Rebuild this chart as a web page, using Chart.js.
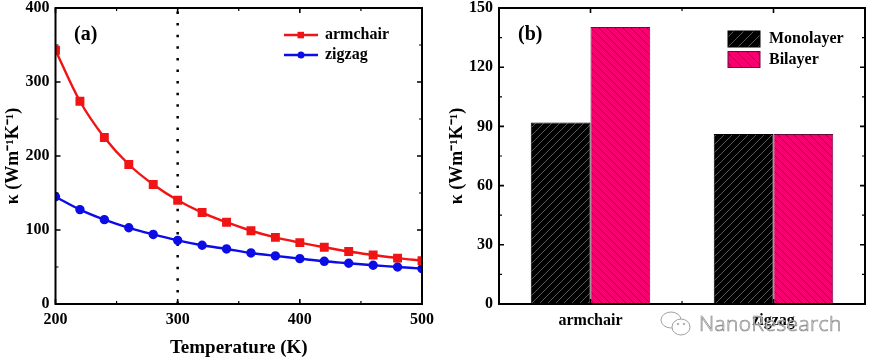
<!DOCTYPE html>
<html>
<head>
<meta charset="utf-8">
<title>Thermal conductivity</title>
<script src="https://cdn.jsdelivr.net/npm/chart.js@4"></script>
<style>
    html, body { margin: 0; padding: 0; background: #fff; }
    #wrap { position: relative; width: 869px; height: 359px; overflow: hidden; }
    canvas { position: absolute; top: 0; }
    #chartA { left: 0; }
    #chartB { left: 435px; }
    #mark { position: absolute; left: 699px; top: 309px; font: 300 21px "Open Sans", sans-serif; color: #fff;
            -webkit-text-stroke: 0.7px #8c8c8c; letter-spacing: 0.4px; white-space: nowrap; }
    #logo { position: absolute; left: 660px; top: 310px; }
</style>
</head>
<body>
<div id="wrap">
    <canvas id="chartA" width="435" height="359"></canvas>
    <canvas id="chartB" width="434" height="359"></canvas>
    <svg id="logo" width="32" height="28" viewBox="0 0 32 28" fill="#fff" stroke="#a0a0a0" stroke-width="1">
        <ellipse cx="11" cy="10" rx="10" ry="8"/>
        <ellipse cx="21" cy="17" rx="9" ry="8"/>
        <circle cx="18" cy="14" r="0.8"/>
        <circle cx="24" cy="14" r="0.8"/>
    </svg>
    <div id="mark">NanoResearch</div>
</div>
<script>
const temps = [200, 220, 240, 260, 280, 300, 320, 340, 360, 380, 400, 420, 440, 460, 480, 500];
const armchair = [343, 274, 225, 188.5, 161.5, 140.2, 123.6, 110.5, 99, 90, 83, 76.7, 71, 66.3, 62, 58.6];
const zigzag = [145, 127.6, 114, 103, 94, 86, 79.4, 74.4, 69, 65, 61.3, 57.7, 55, 52.3, 50, 47.8];
const markerX = [300, 300];
const markerY = [0, 400];

const layers = ['armchair', 'zigzag'];
const monolayer = [92, 86.2];
const bilayer = [140.4, 86.2];

const kappaTitle = 'κ (Wm⁻¹K⁻¹)';
const serif = '"Liberation Serif", serif';
const red = '#f01414';
const blue = '#0c0ce6';
const pink = '#f5006e';

function hatch(bg, line, forward, size) {
    const c = document.createElement('canvas');
    c.width = size;
    c.height = size;
    const g = c.getContext('2d');
    g.fillStyle = bg;
    g.fillRect(0, 0, size, size);
    g.strokeStyle = line;
    g.lineWidth = 0.8;
    const ends = forward
        ? [[-2, 2, 2, -2], [0, size, size, 0], [size - 2, size + 2, size + 2, size - 2]]
        : [[-2, size - 2, 2, size + 2], [0, 0, size, size], [size - 2, -2, size + 2, 2]];
    ends.forEach(e => {
        g.beginPath();
        g.moveTo(e[0], e[1]);
        g.lineTo(e[2], e[3]);
        g.stroke();
    });
    return g.createPattern(c, 'repeat');
}

const monoFill = hatch('#000', '#707070', true, 8);
const biFill = hatch(pink, '#7a0a45', false, 8);
const monoKey = hatch('#000', '#707070', true, 10);
const biKey = hatch(pink, '#7a0a45', false, 10);

// inward ticks on all four sides plus the heavy frame
const framePlugin = {
    id: 'frame',
    afterDatasetsDraw(chart) {
        const ctx = chart.ctx;
        const a = chart.chartArea;
        const xs = chart.scales.x;
        const ys = chart.scales.y;
        ctx.save();
        ctx.strokeStyle = '#000';

        function marks(scale, horizontal) {
            const px = scale.ticks.map((t, i) => scale.getPixelForTick(i));
            const minor = [];
            for (let i = 0; i < px.length - 1; i++) {
                minor.push((px[i] + px[i + 1]) / 2);
            }
            ctx.lineWidth = 1.6;
            px.forEach(p => tick(p, 5, horizontal));
            ctx.lineWidth = 1.2;
            minor.forEach(p => tick(p, 3, horizontal));
        }

        function tick(p, len, horizontal) {
            ctx.beginPath();
            if (horizontal) {
                ctx.moveTo(p, a.bottom);
                ctx.lineTo(p, a.bottom - len);
                ctx.moveTo(p, a.top);
                ctx.lineTo(p, a.top + len);
            } else {
                ctx.moveTo(a.left, p);
                ctx.lineTo(a.left + len, p);
                ctx.moveTo(a.right, p);
                ctx.lineTo(a.right - len, p);
            }
            ctx.stroke();
        }

        marks(xs, true);
        marks(ys, false);
        ctx.lineWidth = 2;
        ctx.strokeRect(a.left, a.top, a.right - a.left, a.bottom - a.top);
        ctx.restore();
    }
};

// panel tag and the hand placed legend
function notePlugin(opts) {
    return {
        id: 'note',
        afterDraw(chart) {
            const ctx = chart.ctx;
            ctx.save();
            ctx.fillStyle = '#000';
            ctx.textBaseline = 'middle';
            ctx.font = 'bold 20px ' + serif;
            ctx.fillText(opts.tag, opts.tagX, 35);
            ctx.font = 'bold 16px ' + serif;
            opts.items.forEach((item, i) => {
                const y = opts.legendY + i * opts.rowGap;
                if (item.swatch) {
                    ctx.fillStyle = item.swatch;
                    ctx.fillRect(opts.legendX, y - 8, 32, 16);
                    ctx.strokeStyle = item.edge;
                    ctx.lineWidth = 1;
                    ctx.strokeRect(opts.legendX, y - 8, 32, 16);
                } else {
                    ctx.strokeStyle = item.color;
                    ctx.lineWidth = 2.4;
                    ctx.beginPath();
                    ctx.moveTo(opts.legendX, y);
                    ctx.lineTo(opts.legendX + 34, y);
                    ctx.stroke();
                    ctx.fillStyle = item.color;
                    ctx.beginPath();
                    if (item.square) {
                        ctx.rect(opts.legendX + 13.5, y - 3.2, 6.5, 6.5);
                    } else {
                        ctx.arc(opts.legendX + 17, y, 3.5, 0, Math.PI * 2);
                    }
                    ctx.fill();
                }
                ctx.fillStyle = '#000';
                ctx.fillText(item.label, opts.textX, y);
            });
            ctx.restore();
        }
    };
}

function pairs(xs, ys) {
    return xs.map((x, i) => ({ x: x, y: ys[i] }));
}

function fitX(scale) {
    scale.height = 55;
    scale.paddingLeft = 0;
    scale.paddingRight = 0;
}

function yAxis(max, step, width, titlePad) {
    return {
        min: 0,
        max: max,
        ticks: {
            stepSize: step,
            color: '#000',
            padding: 6,
            font: { family: serif, weight: 'bold', size: 16 }
        },
        grid: { display: false, drawTicks: false },
        border: { display: false },
        title: {
            display: true,
            text: kappaTitle,
            color: '#000',
            padding: { top: titlePad, bottom: 0 },
            font: { family: serif, weight: 'bold', size: 18 }
        },
        afterFit(scale) {
            scale.width = width;
            scale.paddingTop = 0;
            scale.paddingBottom = 0;
        }
    };
}

new Chart(document.getElementById('chartA'), {
    type: 'line',
    data: {
        datasets: [{
            label: 'armchair',
            data: pairs(temps, armchair),
            borderColor: red,
            backgroundColor: red,
            borderWidth: 2.4,
            pointStyle: 'rect',
            pointRadius: 4.6,
            tension: 0.35
        }, {
            label: 'zigzag',
            data: pairs(temps, zigzag),
            borderColor: blue,
            backgroundColor: blue,
            borderWidth: 2.4,
            pointRadius: 3.5,
            tension: 0.35
        }, {
            label: '300 K',
            data: pairs(markerX, markerY),
            borderColor: '#000',
            borderWidth: 2.5,
            borderDash: [2.5, 9.1],
            pointRadius: 0
        }]
    },
    options: {
        responsive: false,
        animation: false,
        layout: { autoPadding: false, padding: { top: 8, right: 13 } },
        plugins: {
            legend: { display: false },
            tooltip: { enabled: false }
        },
        scales: {
            x: {
                type: 'linear',
                min: 200,
                max: 500,
                ticks: {
                    stepSize: 100,
                    color: '#000',
                    padding: 6,
                    maxRotation: 0,
                    font: { family: serif, weight: 'bold', size: 16 }
                },
                grid: { display: false, drawTicks: false },
                border: { display: false },
                title: {
                    display: true,
                    text: 'Temperature (K)',
                    color: '#000',
                    padding: { top: 8, bottom: 0 },
                    font: { family: serif, weight: 'bold', size: 19 }
                },
                afterFit: fitX
            },
            y: yAxis(400, 100, 55.5, 3)
        }
    },
    plugins: [framePlugin, notePlugin({
        tag: '(a)',
        tagX: 74,
        legendX: 284,
        textX: 325,
        legendY: 35,
        rowGap: 20,
        items: [
            { label: 'armchair', color: red, square: true },
            { label: 'zigzag', color: blue }
        ]
    })]
});

new Chart(document.getElementById('chartB'), {
    type: 'bar',
    data: {
        labels: layers,
        datasets: [{
            label: 'Monolayer',
            data: monolayer,
            backgroundColor: monoFill,
            borderColor: '#000',
            borderWidth: 1
        }, {
            label: 'Bilayer',
            data: bilayer,
            backgroundColor: biFill,
            borderColor: '#6a0a3c',
            borderWidth: 1
        }]
    },
    options: {
        responsive: false,
        animation: false,
        layout: { autoPadding: false, padding: { top: 8, right: 4 } },
        datasets: { bar: { categoryPercentage: 0.653, barPercentage: 1 } },
        plugins: {
            legend: { display: false },
            tooltip: { enabled: false }
        },
        scales: {
            x: {
                ticks: {
                    color: '#000',
                    padding: 7,
                    font: { family: serif, weight: 'bold', size: 16 }
                },
                grid: { display: false, drawTicks: false },
                border: { display: false },
                afterFit: fitX
            },
            y: yAxis(150, 30, 64, 12)
        }
    },
    plugins: [framePlugin, notePlugin({
        tag: '(b)',
        tagX: 83,
        legendX: 293,
        textX: 334,
        legendY: 39,
        rowGap: 20.5,
        items: [
            { label: 'Monolayer', swatch: monoKey, edge: '#000' },
            { label: 'Bilayer', swatch: biKey, edge: '#6a0a3c' }
        ]
    })]
});
</script>
</body>
</html>
